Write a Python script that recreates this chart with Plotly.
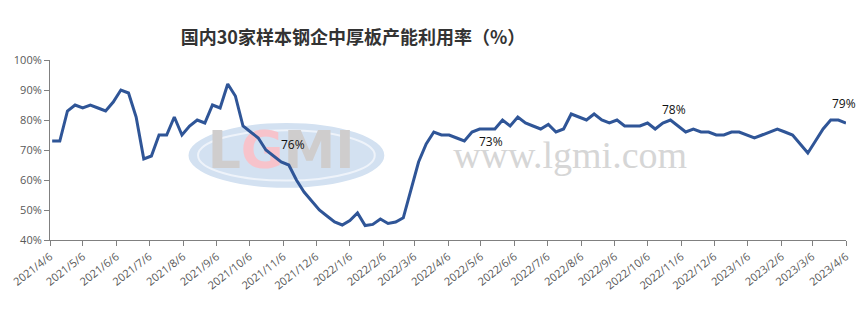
import pandas as pd
import plotly.graph_objects as go

# Weekly data, 2021-04-08 .. 2023-04-06
start_date = "2021-04-08"
values = [73, 73, 83, 85, 84, 85, 84, 83, 86, 90,
          89, 81, 67, 68, 75, 75, 81, 75, 78, 80,
          79, 85, 84, 92, 88, 78, 76, 74, 70, 68,
          66, 65, 60, 56, 53, 50, 48, 46, 45, 46.5,
          49, 44.8, 45.2, 47, 45.5, 46, 47.4, 57, 66, 72,
          76, 75, 75, 74, 73, 76, 77, 77, 77, 80,
          78, 81, 79, 78, 77, 78.5, 76, 77, 82, 81,
          80, 82, 80, 79, 80, 78, 78, 78, 79, 77,
          79, 80, 78, 76, 77, 76, 76, 75, 75, 76,
          76, 75, 74, 75, 76, 77, 76, 75, 72, 69,
          73, 77, 80, 80, 79]
dates = pd.date_range(start_date, periods=len(values), freq="7D")

tick_dates = ["2021-04-06", "2021-05-06", "2021-06-06", "2021-07-06", "2021-08-06",
              "2021-09-06", "2021-10-06", "2021-11-06", "2021-12-06", "2022-01-06",
              "2022-02-06", "2022-03-06", "2022-04-06", "2022-05-06", "2022-06-06",
              "2022-07-06", "2022-08-06", "2022-09-06", "2022-10-06", "2022-11-06",
              "2022-12-06", "2023-01-06", "2023-02-06", "2023-03-06", "2023-04-06"]
tick_text = ["2021/4/6", "2021/5/6", "2021/6/6", "2021/7/6", "2021/8/6",
             "2021/9/6", "2021/10/6", "2021/11/6", "2021/12/6", "2022/1/6",
             "2022/2/6", "2022/3/6", "2022/4/6", "2022/5/6", "2022/6/6",
             "2022/7/6", "2022/8/6", "2022/9/6", "2022/10/6", "2022/11/6",
             "2022/12/6", "2023/1/6", "2023/2/6", "2023/3/6", "2023/4/6"]

label_text = ["76%", "73%", "78%", "79%"]
label_x = ["2021-11-15", "2022-05-15", "2022-10-30", "2023-04-04"]
label_y = [72, 73, 83.5, 85.5]

title = "国内30家样本钢企中厚板产能利用率（%）"

fig = go.Figure()
# watermark (drawn beneath the data line)
fig.add_trace(go.Scatter(x=["2021-11-04"], y=[68.3], mode="text",
                         text=["<b>L<span style='fill:#f7c3cb'>G</span>MI</b>"],
                         textfont=dict(family="DejaVu Sans", size=52, color="#cfcdcd"),
                         hoverinfo="skip", showlegend=False, cliponaxis=False))
fig.add_trace(go.Scatter(x=["2022-07-27"], y=[67.3], mode="text",
                         text=["www.lgmi.com"],
                         textfont=dict(family="Liberation Serif", size=38, color="#d6d6d6"),
                         hoverinfo="skip", showlegend=False, cliponaxis=False))

fig.add_trace(go.Scatter(x=dates, y=values, mode="lines",
                         line=dict(color="#2f5597", width=3),
                         hoverinfo="skip", showlegend=False))

annotations = []
for t, x, y in zip(label_text, label_x, label_y):
    annotations.append(dict(x=x, y=y, xref="x", yref="y", text=t, showarrow=False,
                            font=dict(family="Open Sans", size=12, color="#111111")))

shapes = [
    dict(type="circle", xref="paper", yref="paper", x0=0.174, x1=0.420, y0=0.29, y1=0.65,
         fillcolor="#d3e1f1", line=dict(width=0), layer="below"),
    dict(type="circle", xref="paper", yref="paper", x0=0.186, x1=0.408, y0=0.33, y1=0.61,
         fillcolor="rgba(0,0,0,0)", line=dict(width=2, color="#eef3fa"), layer="below"),
]

fig.update_layout(
    width=861, height=310,
    margin=dict(l=42, r=10, t=60, b=70),
    paper_bgcolor="white", plot_bgcolor="white",
    title=dict(text=title, x=0.41, xanchor="center", y=0.88, yanchor="middle",
               font=dict(family="Noto Sans CJK SC", size=18, color="#333333", weight="bold")),
    annotations=annotations,
    shapes=shapes,
    xaxis=dict(type="date", range=["2021-04-06", "2023-04-06"],
               tickvals=tick_dates, ticktext=tick_text, tickangle=-38,
               showline=True, linecolor="#808080", linewidth=1,
               ticks="outside", ticklen=5, tickcolor="#808080",
               showgrid=False, zeroline=False,
               tickfont=dict(family="Open Sans", size=11, color="#595959")),
    yaxis=dict(range=[40, 100], dtick=10, ticksuffix="%",
               showline=True, linecolor="#808080", linewidth=1,
               ticks="outside", ticklen=5, tickcolor="#808080",
               showgrid=False, zeroline=False,
               tickfont=dict(family="Open Sans", size=11, color="#595959")),
)

fig.write_html("out.html")
